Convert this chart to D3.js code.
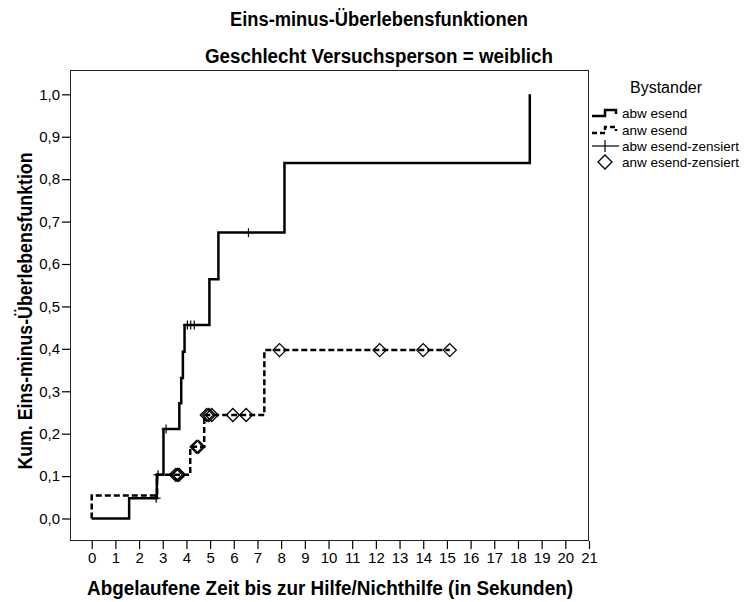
<html>
<head>
<meta charset="utf-8">
<title>Eins-minus-Überlebensfunktionen</title>
<script src="https://d3js.org/d3.v7.min.js"></script>
<style>
  body { margin: 0; background: #fff; }
  text { font-family: "Liberation Sans", Arial, sans-serif; fill: #000; }
</style>
</head>
<body>
<div id="chart"></div>
<script>
// values
var ticksX = d3.range(0, 22);
var ticksY = [0, 0.1, 0.2, 0.3, 0.4, 0.5, 0.6, 0.7, 0.8, 0.9, 1.0];

// Bystander abwesend (solid)
var absentTimes  = [0, 1.58, 2.75, 3.03, 3.70, 3.78, 3.85, 3.92, 4.97, 5.35, 8.14, 18.5];
var absentValues = [0, 0.048, 0.103, 0.211, 0.272, 0.331, 0.393, 0.456, 0.564, 0.674, 0.838, 1.0];
var absentCensored = [2.72, 2.80, 3.14, 4.04, 4.18, 4.33, 6.62];

// Bystander anwesend (dashed)
var presentTimes  = [0, 0, 2.76, 4.16, 4.75, 7.29, 15.12];
var presentValues = [0, 0.054, 0.103, 0.169, 0.244, 0.397, 0.397];
var presentCensored = [3.55, 3.62, 3.68, 4.43, 4.50, 4.86, 4.95, 5.07, 5.96, 6.52, 7.93, 12.16, 14.0, 15.12];

var legendLabels = ["abw esend", "anw esend", "abw esend-zensiert", "anw esend-zensiert"];

var svg = d3.select("#chart").append("svg")
    .attr("width", 744)
    .attr("height", 602);

var x = d3.scaleLinear().domain([-0.875, 21]).range([71, 589]);
var y = d3.scaleLinear().domain([-0.053, 1.055]).range([541, 71]);

// step value at time t
function stepAt(times, values, t) {
    var v = values[0];
    for (var i = 0; i < times.length; i++) {
        if (times[i] <= t) v = values[i];
    }
    return v;
}

// bold title text, squeezed to the width seen in the picture
function title(tx, ty, str, len, rot) {
    svg.append("text")
        .attr("transform", "translate(" + tx + "," + ty + ")" + (rot ? " rotate(-90)" : ""))
        .attr("x", -len / 2)
        .attr("textLength", len)
        .attr("lengthAdjust", "spacingAndGlyphs")
        .style("font-size", "20px").style("font-weight", "bold")
        .text(str);
}
title(379, 26, "Eins-minus-Überlebensfunktionen", 298);
title(379, 63, "Geschlecht Versuchsperson = weiblich", 348);
title(330, 595, "Abgelaufene Zeit bis zur Hilfe/Nichthilfe (in Sekunden)", 486);
title(32, 311, "Kum. Eins-minus-Überlebensfunktion", 317, true);

// frame
svg.append("rect")
    .attr("x", 70.5).attr("y", 70.5)
    .attr("width", 518).attr("height", 470)
    .attr("fill", "none").attr("stroke", "#222").attr("stroke-width", 1);

// axes
var xAxis = svg.append("g")
    .attr("transform", "translate(0,541)")
    .call(d3.axisBottom(x).tickValues(ticksX).tickSize(8).tickPadding(3));
var yAxis = svg.append("g")
    .attr("transform", "translate(71,0)")
    .call(d3.axisLeft(y).tickValues(ticksY).tickSize(9).tickPadding(2)
        .tickFormat(function(d) { return d3.format(".1f")(d).replace(".", ","); }));
[xAxis, yAxis].forEach(function(a) {
    a.select(".domain").remove();
    a.selectAll(".tick line").attr("stroke", "#000").attr("stroke-width", 1.2);
    a.selectAll(".tick text").style("font-size", "15px")
        .style("font-family", "'Liberation Sans Narrow', 'Arial Narrow', sans-serif");
});

// step lines
var line = d3.line()
    .x(function(d) { return x(d[0]); })
    .y(function(d) { return y(d[1]); })
    .curve(d3.curveStepAfter);

svg.append("path")
    .attr("d", line(d3.zip(presentTimes, presentValues)))
    .attr("fill", "none").attr("stroke", "#000").attr("stroke-width", 2.5)
    .attr("stroke-dasharray", "6,3");

svg.append("path")
    .attr("d", line(d3.zip(absentTimes, absentValues)))
    .attr("fill", "none").attr("stroke", "#000").attr("stroke-width", 2.5);

// censored marks
function plus(g, cx, cy, s) {
    g.append("line").attr("x1", cx - s).attr("x2", cx + s).attr("y1", cy).attr("y2", cy)
        .attr("stroke", "#000").attr("stroke-width", 1.2);
    g.append("line").attr("x1", cx).attr("x2", cx).attr("y1", cy - s).attr("y2", cy + s)
        .attr("stroke", "#000").attr("stroke-width", 1.2);
}
function diamond(g, cx, cy, s) {
    g.append("path")
        .attr("d", "M" + cx + "," + (cy - s) + "L" + (cx + s) + "," + cy +
                   "L" + cx + "," + (cy + s) + "L" + (cx - s) + "," + cy + "Z")
        .attr("fill", "none").attr("stroke", "#000").attr("stroke-width", 1.3);
}

var marks = svg.append("g");
absentCensored.forEach(function(t) {
    plus(marks, x(t), y(stepAt(absentTimes, absentValues, t)), 4.5);
});
presentCensored.forEach(function(t) {
    diamond(marks, x(t), y(stepAt(presentTimes, presentValues, t)), 6.5);
});

// legend
var lg = svg.append("g");
lg.append("text").attr("x", 666).attr("y", 93).attr("text-anchor", "middle")
    .style("font-size", "16px").text("Bystander");
var rowY = [113, 130, 146, 162];
legendLabels.forEach(function(lbl, i) {
    lg.append("text").attr("x", 622).attr("y", rowY[i] + 5)
        .style("font-size", "13.5px").text(lbl);
});
var sx0 = 592, sx1 = 619;
lg.append("path")
    .attr("d", "M" + sx0 + "," + (rowY[0] + 3) + "H605V" + (rowY[0] - 3) + "H616V" + (rowY[0] + 1))
    .attr("fill", "none").attr("stroke", "#000").attr("stroke-width", 2.5);
lg.append("path")
    .attr("d", "M" + sx0 + "," + (rowY[1] + 3) + "H605V" + (rowY[1] - 3) + "H616V" + (rowY[1] + 1))
    .attr("fill", "none").attr("stroke", "#000").attr("stroke-width", 2.5)
    .attr("stroke-dasharray", "5,3");
lg.append("line").attr("x1", sx0).attr("x2", sx1).attr("y1", rowY[2]).attr("y2", rowY[2])
    .attr("stroke", "#000").attr("stroke-width", 1.2);
lg.append("line").attr("x1", 605).attr("x2", 605).attr("y1", rowY[2] - 6).attr("y2", rowY[2] + 6)
    .attr("stroke", "#000").attr("stroke-width", 1.2);
diamond(lg, 605, rowY[3], 7);
</script>
</body>
</html>
